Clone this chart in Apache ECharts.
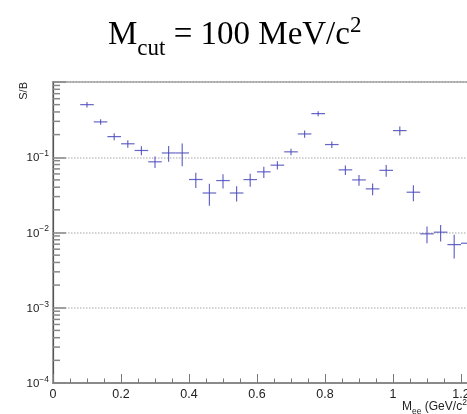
<!DOCTYPE html>
<html><head><meta charset="utf-8">
<script src="https://cdn.jsdelivr.net/npm/echarts@6/dist/echarts.min.js"></script>
<style>html,body{margin:0;padding:0;background:#fff}#c{width:467px;height:414px}</style>
</head><body><div id="c"></div>
<script>
// bin centres (GeV/c^2)
const massCenters = [0.10,0.14,0.18,0.22,0.26,0.30,0.34,0.38,0.42,0.46,0.50,0.54,0.58,0.62,0.66,0.70,0.74,0.78,0.82,0.86,0.90,0.94,0.98,1.02,1.06,1.10,1.14,1.18,1.22];
const binHalfWidth = 0.02;
const sOverB = [0.50,0.295,0.188,0.151,0.123,0.087,0.114,0.114,0.0506,0.0335,0.049,0.0335,0.0505,0.064,0.0785,0.118,0.204,0.38,0.1475,0.068,0.050,0.038,0.067,0.226,0.0343,0.0096,0.0101,0.0069,0.0072];
const sOverBErr = [0.041,0.025,0.020,0.017,0.017,0.015,0.027,0.038,0.0115,0.0108,0.0105,0.0076,0.0098,0.011,0.010,0.012,0.022,0.029,0.015,0.0097,0.0082,0.0068,0.012,0.031,0.0083,0.0024,0.0025,0.0024,0.0021];
const xTickValues = [0,0.2,0.4,0.6,0.8,1,1.2];
const xTickLabels = ['0','0.2','0.4','0.6','0.8','1','1.2'];
const yDecadeExp = {'-4':'−4','-3':'−3','-2':'−2','-1':'−1'};
const yMinorTicks = [];
[1e-4,1e-3,1e-2,1e-1].forEach(d=>{for(let k=2;k<=9;k++) yMinorTicks.push(d*k);});

const XMIN=0, XMAX=1.24;
const chart = echarts.init(document.getElementById('c'), null, {renderer:'canvas'});
const markColor = '#4b4bbd';
const sans = 'Liberation Sans, Arial, Helvetica, sans-serif';
const serif = 'Liberation Serif, Times New Roman, serif';

chart.setOption({
  animation:false,
  backgroundColor:'#fff',
  title:{
    left:108, top:10, padding:0,
    text:'{m|M}{sub|cut}{m| = 100 MeV/c}{sup|2}',
    textStyle:{
      fontWeight:'normal',
      rich:{
        m:{fontFamily:serif,fontSize:33,fontWeight:'normal',color:'#000',verticalAlign:'bottom',lineHeight:42},
        sub:{fontFamily:serif,fontSize:23,fontWeight:'normal',color:'#000',verticalAlign:'bottom',lineHeight:42,padding:[0,0,-8,0]},
        sup:{fontFamily:serif,fontSize:23,fontWeight:'normal',color:'#000',verticalAlign:'bottom',lineHeight:42,padding:[0,0,15,0]}
      }
    }
  },
  grid:{left:53, top:82, bottom:31, width:(XMAX-XMIN)*340, outerBoundsMode:'none', containLabel:false,
        show:true, borderColor:'#a8a8a8', borderWidth:2, backgroundColor:'transparent'},
  xAxis:{
    type:'value', min:XMIN, max:XMAX, interval:0.2,
    axisLine:{show:true, onZero:false, lineStyle:{color:'#8a8a8a', width:2}},
    axisTick:{show:true, inside:true, length:9, lineStyle:{color:'#777'}},
    minorTick:{show:true, splitNumber:4, length:4.5, lineStyle:{color:'#777'}},
    splitLine:{show:false},
    axisLabel:{margin:5, fontFamily:sans, fontSize:12.5, color:'#222',
      formatter:v=>{const i=xTickValues.findIndex(t=>Math.abs(t-v)<1e-6); return i>=0?xTickLabels[i]:'';}}
  },
  yAxis:{
    type:'log', logBase:10, min:1e-4, max:1, splitNumber:4,
    axisLine:{show:true, lineStyle:{color:'#555', width:1.2}},
    axisTick:{show:true, inside:true, length:13, lineStyle:{color:'#888', width:1.5}},
    splitLine:{show:true, lineStyle:{color:'#c4c4c4', type:'dotted', width:1.5}},
    axisLabel:{margin:4, fontFamily:sans, color:'#222',
      formatter:v=>{const e=Math.round(Math.log10(v)); if(e>=0) return ''; return '{b|10}{s|'+yDecadeExp[String(e)]+'}';},
      rich:{b:{fontSize:11.5,fontFamily:sans,color:'#222',verticalAlign:'bottom',lineHeight:14},
            s:{fontSize:8.5,fontFamily:sans,color:'#222',verticalAlign:'bottom',lineHeight:14,padding:[0,0,6,0]}}
    }
  },
  graphic:[
    {type:'text', left:18, top:82, style:{text:'S/B', font:'11px '+sans, fill:'#222'}, rotation:Math.PI/2, originX:0, originY:0},
    {type:'text', left:402, top:398, style:{text:'{m|M}{s|ee}{m| (GeV/c}{p|2}{m|)}', rich:{
      m:{fontSize:12, fontFamily:sans, fill:'#222', verticalAlign:'bottom', lineHeight:15},
      s:{fontSize:8.5, fontFamily:sans, fill:'#222', verticalAlign:'bottom', lineHeight:15, padding:[0,0,-3,0]},
      p:{fontSize:8.5, fontFamily:sans, fill:'#222', verticalAlign:'bottom', lineHeight:15, padding:[0,0,6,0]}
    }}}
  ],
  series:[
    {
      type:'custom', name:'minorTicks', silent:true, clip:false,
      data:yMinorTicks.map(v=>[XMIN,v]),
      renderItem:(params,api)=>{
        const p=api.coord([api.value(0),api.value(1)]);
        return {type:'line', shape:{x1:p[0],y1:p[1],x2:p[0]+7,y2:p[1]}, style:{stroke:'#888', lineWidth:1.5}};
      }
    },
    {
      type:'custom', name:'S/B', clip:true,
      data:massCenters.map((x,i)=>[x,sOverB[i],binHalfWidth,sOverBErr[i]]),
      renderItem:(params,api)=>{
        const x=api.value(0), y=api.value(1), ex=api.value(2), ey=api.value(3);
        const l=api.coord([x-ex,y]), r=api.coord([x+ex,y]);
        const t=api.coord([x,y+ey]), b=api.coord([x,y-ey]);
        const st={stroke:markColor, lineWidth:1.2, opacity:0.85};
        return {type:'group', children:[
          {type:'line', shape:{x1:l[0],y1:l[1],x2:r[0],y2:r[1]}, style:st},
          {type:'line', shape:{x1:t[0],y1:t[1],x2:b[0],y2:b[1]}, style:st}
        ]};
      }
    }
  ]
});
</script></body></html>
